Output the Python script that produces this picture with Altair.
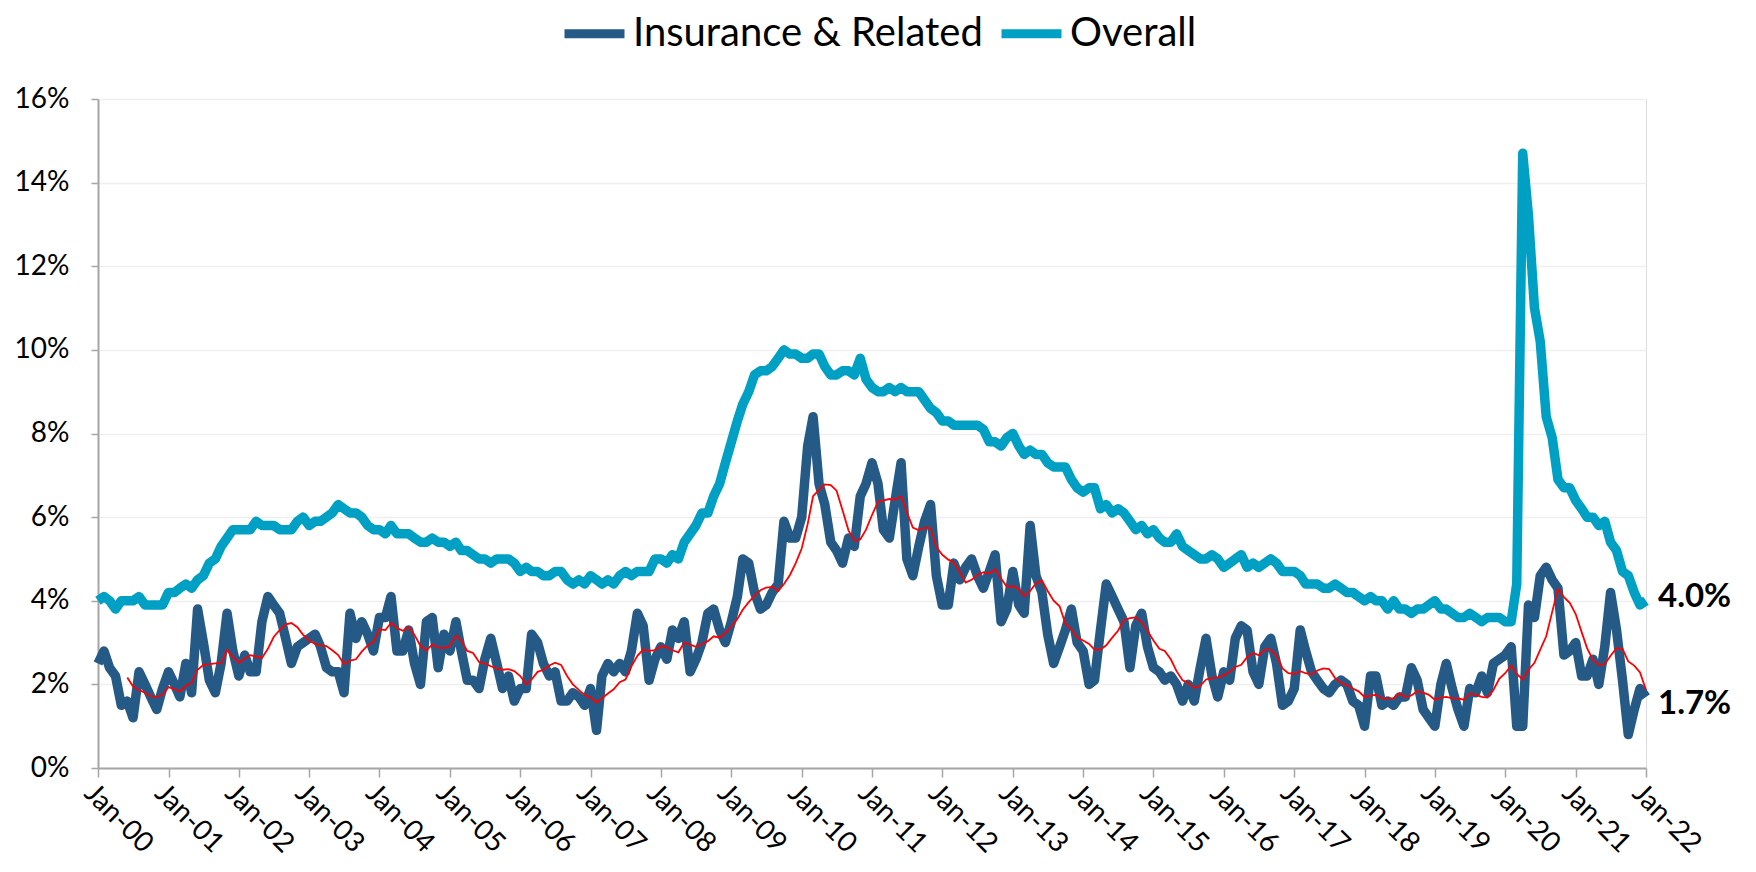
import altair as alt
import pandas as pd

FONT = "Lato"

series_names = ["Insurance & Related", "Overall"]
series_colors = ["#255A87", "#00A0C4"]

# Monthly values, Jan-2000 .. Jan-2022 (percent)
insurance = [
    2.5, 2.8, 2.4, 2.2, 1.5, 1.6, 1.2, 2.3, 2.0, 1.7, 1.4, 1.9,   # 2000
    2.3, 2.0, 1.7, 2.5, 1.8, 3.8, 3.0, 2.1, 1.8, 2.5, 3.7, 2.8,   # 2001
    2.2, 2.7, 2.3, 2.3, 3.5, 4.1, 3.9, 3.7, 3.1, 2.5, 2.9, 3.0,   # 2002
    3.1, 3.2, 2.9, 2.4, 2.3, 2.3, 1.8, 3.7, 3.1, 3.5, 3.2, 2.8,   # 2003
    3.6, 3.6, 4.1, 2.8, 2.8, 3.3, 2.5, 2.0, 3.5, 3.6, 2.4, 3.2,   # 2004
    2.8, 3.5, 2.8, 2.1, 2.1, 1.9, 2.6, 3.1, 2.5, 1.9, 2.2, 1.6,   # 2005
    1.9, 1.9, 3.2, 3.0, 2.5, 2.2, 2.3, 1.6, 1.6, 1.8, 1.7, 1.5,   # 2006
    1.9, 0.9, 2.2, 2.5, 2.3, 2.5, 2.3, 2.8, 3.7, 3.4, 2.1, 2.6,   # 2007
    2.9, 2.6, 3.3, 3.1, 3.5, 2.3, 2.6, 3.0, 3.7, 3.8, 3.3, 3.0,   # 2008
    3.5, 4.1, 5.0, 4.9, 4.2, 3.8, 3.9, 4.2, 4.4, 5.9, 5.5, 5.5,   # 2009
    6.0, 7.7, 8.4, 6.8, 6.3, 5.4, 5.2, 4.9, 5.5, 5.3, 6.5, 6.8,   # 2010
    7.3, 6.8, 5.7, 5.5, 6.4, 7.3, 5.0, 4.6, 5.3, 5.9, 6.3, 4.6,   # 2011
    3.9, 3.9, 4.9, 4.5, 4.8, 5.0, 4.6, 4.3, 4.7, 5.1, 3.5, 3.8,   # 2012
    4.7, 3.9, 3.7, 5.8, 4.6, 4.2, 3.2, 2.5, 2.9, 3.3, 3.8, 3.0,   # 2013
    2.8, 2.0, 2.1, 3.3, 4.4, 4.1, 3.8, 3.5, 2.4, 3.4, 3.7, 2.9,   # 2014
    2.4, 2.3, 2.1, 2.2, 2.0, 1.6, 2.0, 1.6, 2.4, 3.1, 2.2, 1.7,   # 2015
    2.3, 2.1, 3.1, 3.4, 3.3, 2.3, 2.0, 2.9, 3.1, 2.5, 1.5, 1.6,   # 2016
    1.9, 3.3, 2.8, 2.3, 2.1, 1.9, 1.8, 2.0, 2.1, 2.0, 1.6, 1.5,   # 2017
    1.0, 2.2, 2.2, 1.5, 1.6, 1.5, 1.7, 1.7, 2.4, 2.1, 1.4, 1.2,   # 2018
    1.0, 2.0, 2.5, 1.9, 1.4, 1.0, 1.9, 1.8, 2.2, 1.8, 2.5, 2.6,   # 2019
    2.7, 2.9, 1.0, 1.0, 3.9, 3.6, 4.6, 4.8, 4.5, 4.3, 2.7, 2.8,   # 2020
    3.0, 2.2, 2.2, 2.6, 2.0, 2.9, 4.2, 3.3, 2.1, 0.8, 1.4, 1.9,   # 2021
    1.7,                                                          # 2022
]

overall = [
    4.0, 4.1, 4.0, 3.8, 4.0, 4.0, 4.0, 4.1, 3.9, 3.9, 3.9, 3.9,   # 2000
    4.2, 4.2, 4.3, 4.4, 4.3, 4.5, 4.6, 4.9, 5.0, 5.3, 5.5, 5.7,   # 2001
    5.7, 5.7, 5.7, 5.9, 5.8, 5.8, 5.8, 5.7, 5.7, 5.7, 5.9, 6.0,   # 2002
    5.8, 5.9, 5.9, 6.0, 6.1, 6.3, 6.2, 6.1, 6.1, 6.0, 5.8, 5.7,   # 2003
    5.7, 5.6, 5.8, 5.6, 5.6, 5.6, 5.5, 5.4, 5.4, 5.5, 5.4, 5.4,   # 2004
    5.3, 5.4, 5.2, 5.2, 5.1, 5.0, 5.0, 4.9, 5.0, 5.0, 5.0, 4.9,   # 2005
    4.7, 4.8, 4.7, 4.7, 4.6, 4.6, 4.7, 4.7, 4.5, 4.4, 4.5, 4.4,   # 2006
    4.6, 4.5, 4.4, 4.5, 4.4, 4.6, 4.7, 4.6, 4.7, 4.7, 4.7, 5.0,   # 2007
    5.0, 4.9, 5.1, 5.0, 5.4, 5.6, 5.8, 6.1, 6.1, 6.5, 6.8, 7.3,   # 2008
    7.8, 8.3, 8.7, 9.0, 9.4, 9.5, 9.5, 9.6, 9.8, 10.0, 9.9, 9.9,  # 2009
    9.8, 9.8, 9.9, 9.9, 9.6, 9.4, 9.4, 9.5, 9.5, 9.4, 9.8, 9.3,   # 2010
    9.1, 9.0, 9.0, 9.1, 9.0, 9.1, 9.0, 9.0, 9.0, 8.8, 8.6, 8.5,   # 2011
    8.3, 8.3, 8.2, 8.2, 8.2, 8.2, 8.2, 8.1, 7.8, 7.8, 7.7, 7.9,   # 2012
    8.0, 7.7, 7.5, 7.6, 7.5, 7.5, 7.3, 7.2, 7.2, 7.2, 6.9, 6.7,   # 2013
    6.6, 6.7, 6.7, 6.2, 6.3, 6.1, 6.2, 6.1, 5.9, 5.7, 5.8, 5.6,   # 2014
    5.7, 5.5, 5.4, 5.4, 5.6, 5.3, 5.2, 5.1, 5.0, 5.0, 5.1, 5.0,   # 2015
    4.8, 4.9, 5.0, 5.1, 4.8, 4.9, 4.8, 4.9, 5.0, 4.9, 4.7, 4.7,   # 2016
    4.7, 4.6, 4.4, 4.4, 4.4, 4.3, 4.3, 4.4, 4.3, 4.2, 4.2, 4.1,   # 2017
    4.0, 4.1, 4.0, 4.0, 3.8, 4.0, 3.8, 3.8, 3.7, 3.8, 3.8, 3.9,   # 2018
    4.0, 3.8, 3.8, 3.7, 3.6, 3.6, 3.7, 3.6, 3.5, 3.6, 3.6, 3.6,   # 2019
    3.5, 3.5, 4.4, 14.7, 13.2, 11.0, 10.2, 8.4, 7.9, 6.9, 6.7, 6.7,  # 2020
    6.4, 6.2, 6.0, 6.0, 5.8, 5.9, 5.4, 5.2, 4.7, 4.6, 4.2, 3.9,   # 2021
    4.0,                                                          # 2022
]

y_ticks = [0, 2, 4, 6, 8, 10, 12, 14, 16]
tick_years = list(range(2000, 2023))

dates = pd.date_range("2000-01-01", periods=len(insurance), freq="MS")
date_str = [d.strftime("%Y-%m-%d") for d in dates]

df = pd.concat([
    pd.DataFrame({"date": date_str, "series": series_names[0], "value": insurance}),
    pd.DataFrame({"date": date_str, "series": series_names[1], "value": overall}),
], ignore_index=True)

end_df = pd.DataFrame({
    "date": [date_str[-1], date_str[-1]],
    "value": [overall[-1], insurance[-1]],
    "which": ["Overall", "Insurance"],
    "label": [f"{overall[-1]:.1f}%", f"{insurance[-1]:.1f}%"],
})

x_scale = alt.Scale(domain=[alt.DateTime(year=2000, month=1, date=1),
                            alt.DateTime(year=2022, month=1, date=1)])
y_scale = alt.Scale(domain=[0, 16])

x_axis = alt.Axis(
    values=[alt.DateTime(year=y, month=1, date=1) for y in tick_years],
    format="%b-%y", labelAngle=45, labelAlign="left", labelBaseline="top",
    labelFontSize=28, labelFont=FONT, labelColor="#000000", labelPadding=2,
    tickSize=9, tickColor="#A6A6A6", tickWidth=1.5,
    domainColor="#A6A6A6", domainWidth=2, grid=False, title=None,
    labelOverlap=False, labelFlush=False,
)
y_axis = alt.Axis(
    values=y_ticks, labelExpr="datum.value + '%'",
    labelFontSize=28, labelFont=FONT, labelColor="#000000", labelPadding=22,
    tickSize=7, tickColor="#A6A6A6", tickWidth=1.5,
    domainColor="#A6A6A6", domainWidth=2,
    grid=True, gridColor="#EFEFEF", gridWidth=1.5, title=None,
)

base = alt.Chart(df)

lines = base.mark_line(strokeWidth=9.5, strokeJoin="round").encode(
    x=alt.X("date:T", scale=x_scale, axis=x_axis),
    y=alt.Y("value:Q", scale=y_scale, axis=y_axis),
    color=alt.Color(
        "series:N",
        scale=alt.Scale(domain=series_names, range=series_colors),
        legend=alt.Legend(
            title=None, orient="none", legendX=462, legendY=-100,
            direction="horizontal", symbolType="stroke", symbolSize=3600,
            symbolStrokeWidth=9, labelFontSize=40, labelFont=FONT,
            labelColor="#000000", columnPadding=0, labelOffset=4, padding=0,
            labelLimit=0,
        ),
    ),
    detail="series:N",
)

ma = base.transform_filter(
    alt.datum.series == series_names[0]
).transform_window(
    ma="mean(value)", n="count()", frame=[-5, 0], sort=[alt.SortField("date")]
).transform_filter(
    alt.datum.n >= 6
).mark_line(color="#FF0000", strokeWidth=1.8).encode(
    x=alt.X("date:T", scale=x_scale),
    y=alt.Y("ma:Q", scale=y_scale),
)

label_style = dict(align="left", baseline="middle", dx=12, fontSize=33,
                   fontWeight="bold", font=FONT, color="#000000")

label_overall = alt.Chart(end_df).transform_filter(
    alt.datum.which == "Overall"
).mark_text(dy=-4, **label_style).encode(
    x=alt.X("date:T", scale=x_scale),
    y=alt.Y("value:Q", scale=y_scale),
    text="label:N",
)

label_ins = alt.Chart(end_df).transform_filter(
    alt.datum.which == "Insurance"
).mark_text(dy=7, **label_style).encode(
    x=alt.X("date:T", scale=x_scale),
    y=alt.Y("value:Q", scale=y_scale),
    text="label:N",
)

chart = alt.layer(lines, ma, label_overall, label_ins).properties(
    width=1548, height=669,
    autosize=alt.AutoSizeParams(type="none"),
    padding={"left": 90, "top": 91, "right": 95, "bottom": 92},
).configure_view(strokeWidth=0).configure(background="#FFFFFF")

chart.save("out.html", embed_options={"renderer": "svg", "actions": False})
